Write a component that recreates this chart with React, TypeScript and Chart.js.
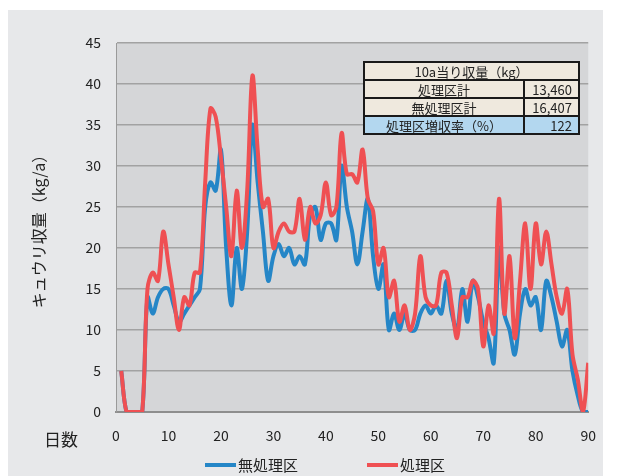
import React, { useEffect, useRef } from "react";
import { Chart, registerables } from "chart.js";

Chart.register(...registerables);

const days: number[] = Array.from({ length: 90 }, (_, i) => i + 1);

const untreated: number[] = [
  5, 0, 0, 0, 0, 14, 12, 14, 15, 15,
  13, 11, 12, 13, 14, 15, 25, 28, 27, 32,
  20, 13, 20, 15, 22, 35, 28, 22, 16, 19,
  20.5, 19, 20, 18, 19, 18, 24, 25, 21, 23,
  23, 21, 30, 25, 22, 18, 22, 26, 19, 15,
  18, 10, 12, 10, 12, 10, 10, 12, 13, 12,
  13, 12, 16, 12, 10, 15, 11, 16, 14, 11,
  9, 6, 20, 12, 10, 7, 12, 15, 13, 14,
  10, 16, 14, 11, 8, 10, 5, 2, 0, 0,
];

const treated: number[] = [
  5, 0, 0, 0, 0, 15, 17, 16, 22, 18,
  14, 10, 14, 13, 17, 17, 28, 37, 36, 31,
  25, 19, 27, 20, 27, 41, 32, 25, 26, 20,
  22, 23, 22, 22, 26, 21, 25, 23, 24, 28,
  24, 25, 34, 29, 29, 28, 32, 26, 24.5, 18,
  20, 14, 16, 11, 13, 10, 12, 19, 14, 13,
  13, 17, 17, 13, 9, 14, 14, 16, 15, 8,
  13, 9.6, 26, 12, 19, 9, 16, 23, 15, 23,
  18, 22, 18, 14, 12, 15, 7, 4, 0, 6,
];

const seriesNames: string[] = ["無処理区", "処理区"];
const seriesColors: string[] = ["#2586c7", "#ef5053"];

const xTicks: number[] = [0, 10, 20, 30, 40, 50, 60, 70, 80, 90];
const yTicks: number[] = [0, 5, 10, 15, 20, 25, 30, 35, 40, 45];

const tableTitle = "10a当り収量（kg）";
const tableLabels: string[] = ["処理区計", "無処理区計", "処理区増収率（%）"];
const tableValues: string[] = ["13,460", "16,407", "122"];

const yTitle = "キュウリ収量（kg/a）";
const xTitle = "日数";

const FONT = "'Noto Sans CJK JP', 'Noto Sans', sans-serif";

export default function App() {
  const ref = useRef<HTMLCanvasElement | null>(null);

  useEffect(() => {
    if (!ref.current) return;

    const decor = {
      id: "decor",
      beforeDraw(chart: any) {
        const { ctx, chartArea } = chart;
        ctx.save();
        ctx.fillStyle = "#d5d6d8";
        ctx.fillRect(chartArea.left, chartArea.top, chartArea.right - chartArea.left, chartArea.bottom - chartArea.top);
        ctx.restore();
      },
      afterDraw(chart: any) {
        const { ctx, chartArea } = chart;
        ctx.save();
        ctx.fillStyle = "#222";
        ctx.font = `16px ${FONT}`;
        ctx.textAlign = "center";
        ctx.textBaseline = "middle";
        ctx.translate(31, (chartArea.top + chartArea.bottom) / 2);
        ctx.rotate(-Math.PI / 2);
        ctx.fillText(yTitle, 0, 0);
        ctx.restore();

        ctx.save();
        ctx.fillStyle = "#222";
        ctx.font = `17px ${FONT}`;
        ctx.textAlign = "center";
        ctx.textBaseline = "middle";
        ctx.fillText(xTitle, 53, 430);

        // legend
        const legY = 455;
        const items = [
          { x: 197, w: 31 },
          { x: 359, w: 31 },
        ];
        ctx.font = `15px ${FONT}`;
        ctx.textAlign = "left";
        items.forEach((it, i) => {
          ctx.strokeStyle = seriesColors[i];
          ctx.lineWidth = 4;
          ctx.beginPath();
          ctx.moveTo(it.x, legY);
          ctx.lineTo(it.x + it.w, legY);
          ctx.stroke();
          ctx.fillStyle = "#222";
          ctx.fillText(seriesNames[i], it.x + it.w + 2, legY);
        });

        // table
        const tx = 356, ty = 52, tw = 215, rh = 18, split = 516 - tx;
        const rows = 4;
        ctx.fillStyle = "#efe9de";
        ctx.fillRect(tx, ty, tw, rh * 3);
        ctx.fillStyle = "#b3d7ef";
        ctx.fillRect(tx, ty + rh * 3, tw, rh);
        ctx.strokeStyle = "#1a1a1a";
        ctx.lineWidth = 2;
        ctx.strokeRect(tx, ty, tw, rh * rows);
        for (let r = 1; r < rows; r++) {
          ctx.beginPath();
          ctx.moveTo(tx, ty + rh * r);
          ctx.lineTo(tx + tw, ty + rh * r);
          ctx.stroke();
        }
        ctx.beginPath();
        ctx.moveTo(tx + split, ty + rh);
        ctx.lineTo(tx + split, ty + rh * rows);
        ctx.stroke();
        ctx.fillStyle = "#222";
        ctx.font = `13px ${FONT}`;
        ctx.textAlign = "center";
        ctx.textBaseline = "middle";
        ctx.fillText(tableTitle, tx + tw / 2, ty + rh / 2 + 1);
        tableLabels.forEach((lab, i) => {
          ctx.textAlign = "center";
          ctx.fillText(lab, tx + split / 2, ty + rh * (i + 1) + rh / 2 + 1);
          ctx.textAlign = "right";
          ctx.fillText(tableValues[i], tx + tw - 7, ty + rh * (i + 1) + rh / 2 + 1);
        });
        ctx.restore();
      },
    };

    const chart = new Chart(ref.current, {
      type: "line",
      data: {
        datasets: [
          {
            label: seriesNames[0],
            data: days.map((d, i) => ({ x: d, y: untreated[i] })),
            borderColor: seriesColors[0],
            borderWidth: 4,
            pointRadius: 0,
            tension: 0.35,
            order: 2,
          },
          {
            label: seriesNames[1],
            data: days.map((d, i) => ({ x: d, y: treated[i] })),
            borderColor: seriesColors[1],
            borderWidth: 4,
            pointRadius: 0,
            tension: 0.35,
            order: 1,
          },
        ],
      },
      options: {
        animation: false,
        responsive: false,
        maintainAspectRatio: false,
        layout: { padding: { top: 33, right: 5, left: 0, bottom: 0 } },
        plugins: { legend: { display: false }, tooltip: { enabled: false } },
        scales: {
          x: {
            type: "linear",
            min: 0,
            max: 90,
            afterBuildTicks: (s: any) => {
              s.ticks = xTicks.map((v) => ({ value: v }));
            },
            afterFit: (s: any) => {
              s.height = 64;
            },
            grid: { display: false },
            border: { display: true, color: "#8e8e8e", width: 2 },
            ticks: { padding: 7, color: "#222", font: { family: FONT, size: 14 } },
          },
          y: {
            min: 0,
            max: 45,
            afterBuildTicks: (s: any) => {
              s.ticks = yTicks.map((v) => ({ value: v }));
            },
            afterFit: (s: any) => {
              s.width = 108;
            },
            grid: { color: "#a2a2a2", lineWidth: 1.5, drawTicks: false },
            border: { display: true, color: "#9a9a9a", width: 1 },
            ticks: { padding: 15, color: "#222", font: { family: FONT, size: 14 } },
          },
        },
      },
      plugins: [decor],
    });

    return () => chart.destroy();
  }, []);

  return (
    <div style={{ marginTop: 2, width: 595, height: 466, background: "#e7e8ea" }}>
      <canvas ref={ref} width={595} height={466} style={{ display: "block" }} />
    </div>
  );
}
